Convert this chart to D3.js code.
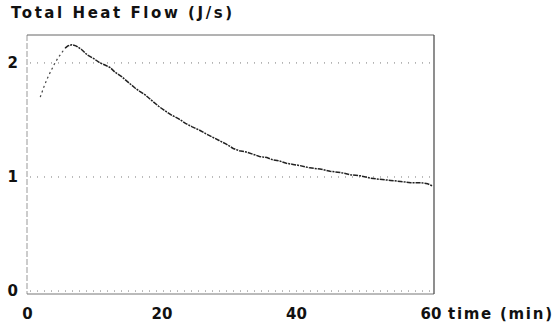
<!DOCTYPE html>
<html>
<head>
<meta charset="utf-8">
<script src="https://cdn.jsdelivr.net/npm/d3@7"></script>
<style>
  body { margin: 0; background: #fff; }
  text { font-family: "DejaVu Sans", sans-serif; font-weight: bold; fill: #111; }
</style>
</head>
<body>
<svg id="chart" width="554" height="329"></svg>
<script>
// time (min) and total heat flow (J/s)
const times = [1.9, 2.5, 3.0, 3.4, 4.0, 4.5, 5.1, 5.6, 6.0, 6.6, 7.2, 8.0, 8.9, 9.8, 10.8, 11.6, 12.3, 13, 14, 15,
  16, 16.7, 17.5, 18.5, 19.5, 20.7, 21.5, 22.5, 23.5, 24.5, 25.6, 26.5, 27.5, 28.5, 29.5, 30.6, 31.5, 32.5, 33.5, 34.5,
  35.6, 36.5, 37.5, 38.5, 39.5, 40.5, 42, 43.5, 45, 46.5, 48, 49.5, 51, 52.4, 54, 55.5, 57, 58.5, 59.5, 60.3];
const heatFlow = [1.70, 1.80, 1.87, 1.92, 1.99, 2.04, 2.09, 2.13, 2.15, 2.16, 2.15, 2.12, 2.07, 2.04, 2.00, 1.98, 1.96, 1.92, 1.88, 1.83,
  1.78, 1.75, 1.72, 1.67, 1.62, 1.57, 1.54, 1.51, 1.47, 1.44, 1.41, 1.38, 1.35, 1.32, 1.29, 1.25, 1.23, 1.22, 1.20, 1.18,
  1.17, 1.15, 1.14, 1.12, 1.11, 1.10, 1.08, 1.07, 1.05, 1.04, 1.02, 1.01, 0.99, 0.98, 0.97, 0.96, 0.95, 0.95, 0.94, 0.92];
const xTicks = [0, 20, 40, 60];
const yTicks = [0, 1, 2];

const svg = d3.select("#chart");
const pLeft = 27, pRight = 434, pTop = 35, pBottom = 294;

const x = d3.scaleLinear().domain([-0.07, 60.45]).range([pLeft, pRight]);
const y = d3.scaleLinear().domain([-0.026, 2.245]).range([pBottom, pTop]);

// title
svg.append("text")
  .attr("x", 11).attr("y", 18)
  .attr("font-size", 15)
  .attr("textLength", 221)
  .attr("lengthAdjust", "spacing")
  .text("Total Heat Flow (J/s)");

// dotted grid lines
svg.selectAll(".grid")
  .data(yTicks)
  .enter()
  .append("line")
  .attr("x1", pLeft + 3).attr("x2", pRight - 3)
  .attr("y1", d => y(d)).attr("y2", d => y(d))
  .attr("stroke", "#777")
  .attr("stroke-width", 1)
  .attr("stroke-dasharray", "1,6");

// frame
svg.append("line")
  .attr("x1", pLeft).attr("x2", pLeft)
  .attr("y1", pTop).attr("y2", pBottom)
  .attr("stroke", "#999").attr("stroke-width", 1)
  .attr("stroke-dasharray", "6,2");
svg.append("line")
  .attr("x1", pLeft).attr("x2", pRight)
  .attr("y1", pTop).attr("y2", pTop)
  .attr("stroke", "#666").attr("stroke-width", 1);
svg.append("line")
  .attr("x1", pLeft).attr("x2", pRight)
  .attr("y1", pBottom).attr("y2", pBottom)
  .attr("stroke", "#777").attr("stroke-width", 1);
svg.append("line")
  .attr("x1", pRight).attr("x2", pRight)
  .attr("y1", pTop).attr("y2", pBottom)
  .attr("stroke", "#444").attr("stroke-width", 1.2);

// y tick labels
svg.selectAll(".ylab")
  .data(yTicks)
  .enter()
  .append("text")
  .attr("x", 18)
  .attr("y", d => y(d))
  .attr("dy", "0.36em")
  .attr("text-anchor", "end")
  .attr("font-size", 15)
  .text(d => d);

// x tick labels
svg.selectAll(".xlab")
  .data(xTicks)
  .enter()
  .append("text")
  .attr("x", d => x(d))
  .attr("y", 319)
  .attr("text-anchor", "middle")
  .attr("font-size", 15)
  .text(d => d);

svg.append("text")
  .attr("x", 448).attr("y", 319)
  .attr("font-size", 15)
  .attr("textLength", 104)
  .attr("lengthAdjust", "spacing")
  .text("time (min)");

// heat flow trace: faint dotted rise, then the darker trace
const pts = times.map((t, i) => [t, heatFlow[i]]);
const line = d3.line()
  .x(d => x(d[0]))
  .y(d => y(d[1]));

svg.append("path")
  .datum(pts.filter(d => d[0] <= 5.6))
  .attr("d", line)
  .attr("fill", "none")
  .attr("stroke", "#444")
  .attr("stroke-width", 1.2)
  .attr("stroke-dasharray", "2,3");

svg.append("path")
  .datum(pts.filter(d => d[0] >= 5.6))
  .attr("d", line)
  .attr("fill", "none")
  .attr("stroke", "#222")
  .attr("stroke-width", 1.5)
  .attr("stroke-dasharray", "5,1,2,1");
</script>
</body>
</html>
